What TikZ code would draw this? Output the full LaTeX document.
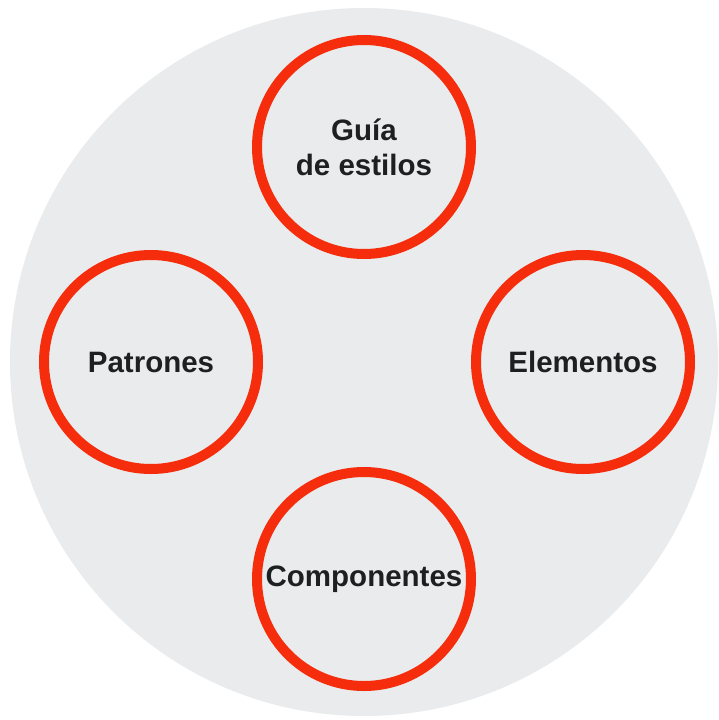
\documentclass[tikz,border=0pt]{standalone}
\usepackage{fontspec}
\setmainfont{Liberation Sans}
\usetikzlibrary{positioning}

\definecolor{discgray}{HTML}{E9EBEC}
\definecolor{ringred}{HTML}{F52D0C}
\definecolor{labelink}{HTML}{1E1F21}

\begin{document}
\begin{tikzpicture}[
    x=1pt,
    y=-1pt,
    node distance=216pt,
    on grid,
    ring/.style={circle, draw=ringred, line width=10pt, minimum size=214pt,
        inner sep=0pt, align=center, text=labelink,
        font=\fontsize{29.5}{35}\selectfont\bfseries},
]

    \useasboundingbox (0,0) rectangle (718,720);

    \node[circle, fill=discgray, minimum size=708pt] (disc) at (364,362) {};

    \node[ring, above =215pt of disc] (guia)        {Guía\\de estilos};
    \node[ring, left  =213pt of disc] (patrones)    {Patrones};
    \node[ring, right =219pt of disc] (elementos)   {Elementos};
    \node[ring, below =217pt of disc] (componentes) {Componentes};
\end{tikzpicture}
\end{document}
